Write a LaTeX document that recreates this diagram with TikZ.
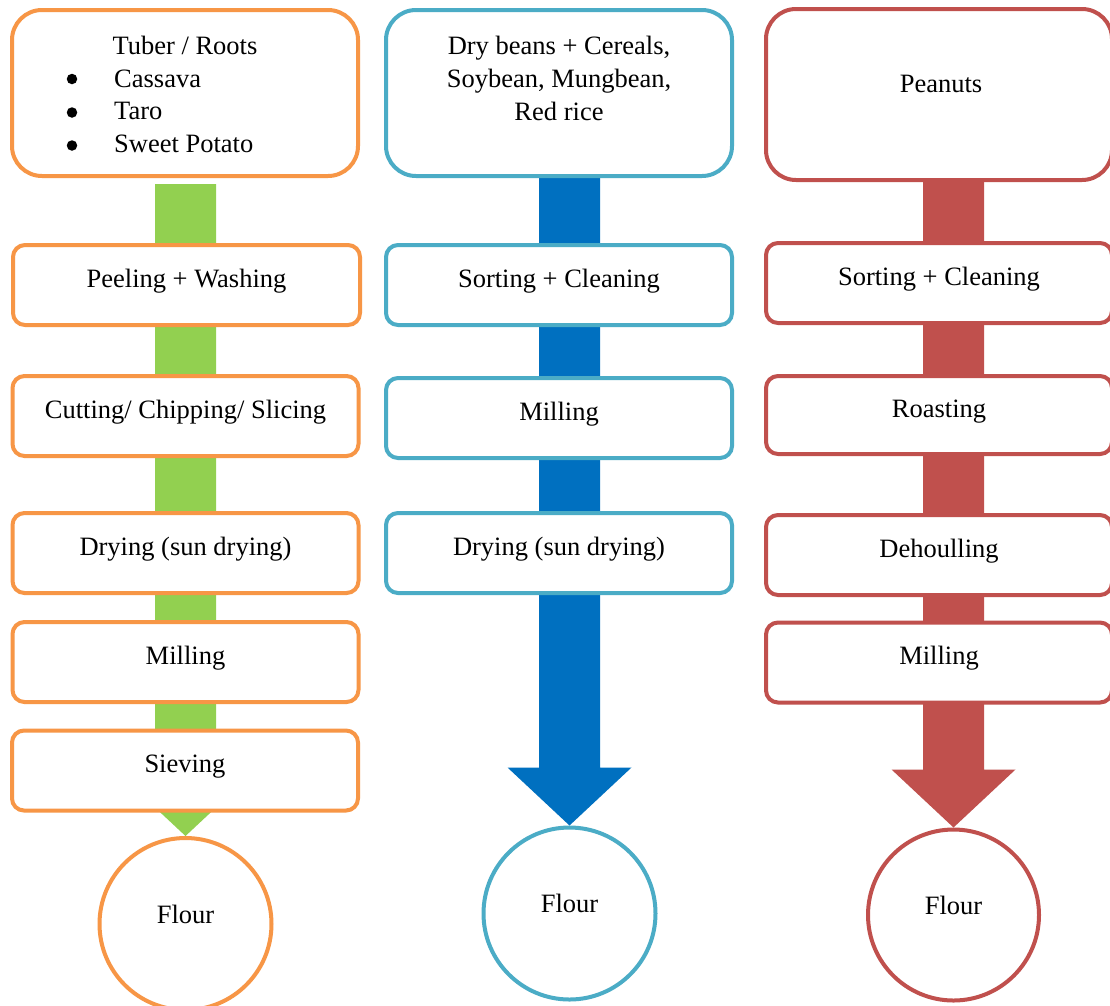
\documentclass[tikz,border=0pt]{standalone}
\usepackage{fontspec}
\setmainfont{LiberationSerif}[Extension=.ttf, UprightFont=*-Regular, BoldFont=*-Bold, ItalicFont=*-Italic, BoldItalicFont=*-BoldItalic]
\usetikzlibrary{calc,backgrounds}
\definecolor{orng}{HTML}{F79646}
\definecolor{teal}{HTML}{4BACC6}
\definecolor{redd}{HTML}{C0504D}
\definecolor{grn}{HTML}{92D050}
\definecolor{blu}{HTML}{0070C0}
% #1 top node, #2 target circle, #3 colour, #4 gap below the top node
\newcommand\flowarrow[4]{%
  \fill[#3] ($(#2.north |- #1.south)+(-30.5,#4)$) -- ($(#2.north)+(-30.5,-58)$)
    -- ($(#2.north)+(-62,-58)$) -- (#2.north) -- ($(#2.north)+(62,-58)$)
    -- ($(#2.north)+(30.5,-58)$) -- ($(#2.north |- #1.south)+(30.5,#4)$) -- cycle;}
\begin{document}
\begin{tikzpicture}[x=1pt,y=-1pt,
  every node/.style={font=\fontsize{26.5}{32.7}\selectfont, text=black},
  topbox/.style={draw, line width=4pt, fill=white, rounded corners=30pt, minimum width=346pt, inner sep=0pt},
  stepbox/.style={draw, line width=4pt, fill=white, rounded corners=12pt, minimum width=346pt, minimum height=80pt, inner sep=0pt, text height=20pt, text depth=16pt},
  flourc/.style={circle, draw, line width=4pt, fill=white, minimum size=172pt, inner sep=0pt, text height=16pt, text depth=18pt},
  bulletdot/.style={circle, fill=black, minimum size=10.5pt, inner sep=0pt},
  lbl/.style={anchor=base, inner sep=0pt},
  lblw/.style={anchor=base west, inner sep=0pt},
]
\useasboundingbox (0,0) rectangle (1110,1005);

% ---------- left column ----------
\node[topbox, draw=orng, minimum height=166pt] (t1) at (185,93) {};
\node[lbl] (t1a) at (185,54) {Tuber / Roots};
\node[bulletdot] (bl1) at (72,79) {};
\node[bulletdot] (bl2) at (72,112.5) {};
\node[bulletdot] (bl3) at (72,145.5) {};
\node[lblw] (t1b) at (114,87) {Cassava};
\node[lblw] (t1c) at (114,119) {Taro};
\node[lblw] (t1d) at (114,152) {Sweet Potato};
\node[stepbox, draw=orng, minimum width=347pt] (a1) at (186.5,285) {Peeling + Washing};
\node[stepbox, draw=orng] (a2) at (185.5,416) {Cutting/ Chipping/ Slicing};
\node[stepbox, draw=orng] (a3) at (185.5,553) {Drying (sun drying)};
\node[stepbox, draw=orng] (a4) at (185.5,662) {Milling};
\node[stepbox, draw=orng] (a5) at (185,770.5) {Sieving};
\node[flourc, draw=orng] (f1) at (185.5,924) {Flour};

% ---------- middle column ----------
\node[topbox, draw=teal, minimum height=166pt] (t2) at (559,93) {};
\node[lbl] (t2a) at (559,54) {Dry beans + Cereals,};
\node[lbl] (t2b) at (559,87) {Soybean, Mungbean,};
\node[lbl] (t2c) at (559,120) {Red rice};
\node[stepbox, draw=teal] (b1) at (559,285) {Sorting + Cleaning};
\node[stepbox, draw=teal] (b2) at (559,418) {Milling};
\node[stepbox, draw=teal] (b3) at (559,553) {Drying (sun drying)};
\node[flourc, draw=teal] (f2) at (569.5,913.5) {Flour};

% ---------- right column ----------
\node[topbox, draw=redd, minimum height=171pt] (t3) at (939,94.5) {};
\node[lbl] (t3a) at (941,92) {Peanuts};
\node[stepbox, draw=redd] (c1) at (939,283) {Sorting + Cleaning};
\node[stepbox, draw=redd, minimum height=78pt] (c2) at (939,415) {Roasting};
\node[stepbox, draw=redd] (c3) at (939,555) {Dehoulling};
\node[stepbox, draw=redd] (c4) at (939,662.5) {Milling};
\node[flourc, draw=redd, minimum size=171pt] (f3) at (953.5,915) {Flour};

% ---------- block arrows ----------
\begin{pgfonlayer}{background}
  \fill[white] (0,0) rectangle (1110,1005);
  \flowarrow{t1}{f1}{grn}{6}
  \flowarrow{t2}{f2}{blu}{0}
  \flowarrow{t3}{f3}{redd}{0}
\end{pgfonlayer}
\end{tikzpicture}
\end{document}
